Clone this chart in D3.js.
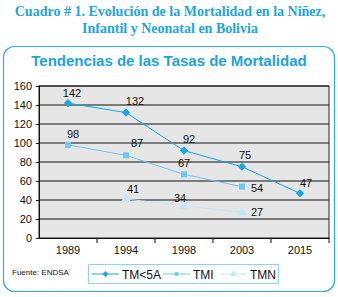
<!DOCTYPE html>
<html>
<head>
<meta charset="utf-8">
<script src="https://cdn.jsdelivr.net/npm/d3@7"></script>
<style>
  body { margin: 0; background: #fff; }
  svg { display: block; }
</style>
</head>
<body>
<svg></svg>
<script>
const width = 338;
const height = 297;

const years = ["1989", "1994", "1998", "2003", "2015"];
const tm5a = [142, 132, 92, 75, 47];
const tmi = [98, 87, 67, 54, null];
const tmn = [null, 41, 34, 27, null];
const yTicks = [0, 20, 40, 60, 80, 100, 120, 140, 160];

const margin = { left: 39, right: 9, top: 86, bottom: 59 };

const svg = d3.select("svg")
    .attr("width", width)
    .attr("height", height);

// title
const title = svg.append("g")
    .attr("font-family", "Liberation Serif, serif")
    .attr("font-weight", "bold")
    .attr("font-size", 14)
    .attr("fill", "#1aa6e6")
    .attr("text-anchor", "middle");
title.append("text").attr("x", 170).attr("y", 16).text("Cuadro # 1. Evolución de la Mortalidad en la Niñez,");
title.append("text").attr("x", 170).attr("y", 33).text("Infantil y Neonatal en Bolivia");

// rounded frame
svg.append("rect")
    .attr("x", 3.5).attr("y", 46.5)
    .attr("width", 331).attr("height", 245)
    .attr("rx", 11)
    .attr("fill", "none")
    .attr("stroke", "#2aaee8")
    .attr("stroke-width", 1.2);

svg.append("text")
    .attr("x", 169).attr("y", 66)
    .attr("text-anchor", "middle")
    .attr("font-family", "Liberation Sans, Arial, sans-serif")
    .attr("font-weight", "bold")
    .attr("font-size", 15)
    .attr("fill", "#1aa3e4")
    .text("Tendencias de las Tasas de Mortalidad");

const x = d3.scaleBand()
    .domain(years)
    .range([margin.left, width - margin.right]);

const y = d3.scaleLinear()
    .domain([0, 160])
    .range([height - margin.bottom, margin.top]);

// plot area
svg.append("rect")
    .attr("x", margin.left).attr("y", margin.top)
    .attr("width", width - margin.left - margin.right)
    .attr("height", height - margin.top - margin.bottom)
    .attr("fill", "#e6e6e6")
    .attr("stroke", "#222")
    .attr("stroke-width", 1);

svg.append("g")
    .selectAll("line")
    .data(yTicks.slice(1))
    .enter().append("line")
    .attr("x1", margin.left).attr("x2", width - margin.right)
    .attr("y1", d => y(d)).attr("y2", d => y(d))
    .attr("stroke", "#111")
    .attr("stroke-width", 1);

const yAxis = svg.append("g")
    .attr("transform", `translate(${margin.left},0)`)
    .call(d3.axisLeft(y).tickValues(yTicks).tickSize(3).tickPadding(4));

const xAxis = svg.append("g")
    .attr("transform", `translate(0,${height - margin.bottom})`)
    .call(d3.axisBottom(x).tickSize(0).tickPadding(8));

// category separators on x axis
xAxis.selectAll(".sep")
    .data(years)
    .enter().append("line")
    .attr("x1", d => x(d) + x.bandwidth())
    .attr("x2", d => x(d) + x.bandwidth())
    .attr("y1", 0).attr("y2", 5)
    .attr("stroke", "#111");

[yAxis, xAxis].forEach(a => {
    a.selectAll("text")
        .attr("font-family", "Liberation Sans, Arial, sans-serif")
        .attr("font-size", 11)
        .attr("fill", "#111");
    a.select(".domain").attr("stroke", "#111");
    a.selectAll(".tick line").attr("stroke", "#111");
});

// diamonds are squares turned 45 degrees
const series = [
    { name: "TM<5A", values: tm5a, color: "#14a6e6", symbol: d3.symbolSquare, rot: 45, size: 34, lsize: 18 },
    { name: "TMI", values: tmi, color: "#6cc9f1", symbol: d3.symbolSquare, rot: 0, size: 36, lsize: 14 },
    { name: "TMN", values: tmn, color: "#c2e8f9", symbol: d3.symbolTriangle, rot: 0, size: 44, lsize: 20 }
];

// label offsets [dx, dy] per point
const labelOffsets = {
    "TM<5A": [[4, -10], [9, -12], [5, -12], [3, -12], [6, -10]],
    "TMI": [[5, -11], [11, -12], [0, -11], [15, 1], null],
    "TMN": [null, [7, -10], [-4, -8], [15, 0], null]
};

const cx = i => x(years[i]) + x.bandwidth() / 2;

series.forEach(s => {
    const pts = s.values.map((v, i) => ({ v, i })).filter(d => d.v !== null);
    const line = d3.line().x(d => cx(d.i)).y(d => y(d.v));
    const g = svg.append("g");
    g.append("path")
        .attr("d", line(pts))
        .attr("fill", "none")
        .attr("stroke", s.color)
        .attr("stroke-width", 1);
    g.selectAll("path.m")
        .data(pts)
        .enter().append("path")
        .attr("class", "m")
        .attr("d", d3.symbol(s.symbol, s.size))
        .attr("transform", d => `translate(${cx(d.i)},${y(d.v)}) rotate(${s.rot})`)
        .attr("fill", s.color);
    g.selectAll("text")
        .data(pts)
        .enter().append("text")
        .attr("x", d => cx(d.i) + labelOffsets[s.name][d.i][0])
        .attr("y", d => y(d.v) + labelOffsets[s.name][d.i][1] + 4)
        .attr("text-anchor", "middle")
        .attr("font-family", "Liberation Sans, Arial, sans-serif")
        .attr("font-size", 11)
        .attr("fill", "#111")
        .text(d => d.v);
});

svg.append("text")
    .attr("x", 12).attr("y", 275)
    .attr("font-family", "Liberation Sans, Arial, sans-serif")
    .attr("font-size", 8)
    .attr("fill", "#111")
    .text("Fuente: ENDSA");

// legend
const legend = svg.append("g").attr("id", "legend");
legend.append("rect")
    .attr("x", 88.5).attr("y", 264.5)
    .attr("width", 190).attr("height", 19)
    .attr("fill", "#fff")
    .attr("stroke", "#8fd3f2")
    .attr("stroke-width", 1);

const legendX = [92, 163, 220];
const legendItem = legend.selectAll(".legend-item")
    .data(series)
    .enter().append("g")
    .attr("class", "legend-item")
    .attr("transform", (d, i) => `translate(${legendX[i]},274)`);

legendItem.append("line")
    .attr("x1", 0).attr("x2", 27)
    .attr("stroke", d => d.color);
legendItem.append("path")
    .attr("d", d => d3.symbol(d.symbol, d.lsize)())
    .attr("transform", d => `translate(13.5,0) rotate(${d.rot})`)
    .attr("fill", d => d.color);
legendItem.append("text")
    .attr("x", 30).attr("y", 4.5)
    .attr("font-family", "Liberation Sans, Arial, sans-serif")
    .attr("font-size", 12)
    .attr("fill", "#111")
    .text(d => d.name);
</script>
</body>
</html>
